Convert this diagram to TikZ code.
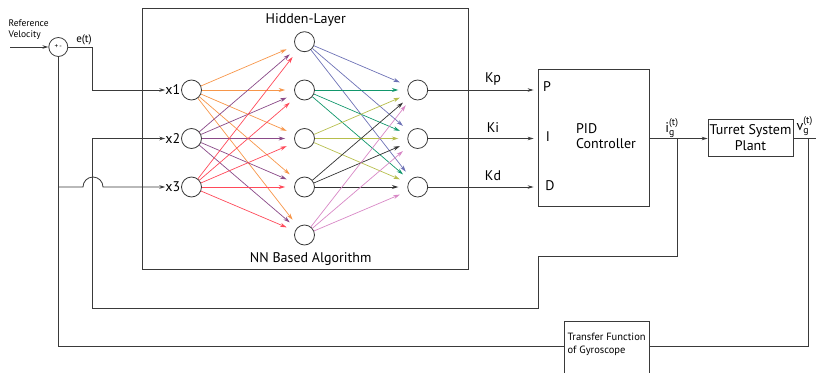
\documentclass[tikz,border=0pt]{standalone}
\usepackage{amsmath}
\usepackage{fontspec}
\setmainfont{PT Sans}
\usetikzlibrary{arrows.meta,calc}
\definecolor{corange}{HTML}{F7964A}
\definecolor{cpurple}{HTML}{8A4A88}
\definecolor{cred}{HTML}{FF4A5A}
\definecolor{cblue}{HTML}{6D72B6}
\definecolor{cteal}{HTML}{12976C}
\definecolor{colive}{HTML}{B7BE4C}
\definecolor{cdark}{HTML}{333333}
\definecolor{cpink}{HTML}{D888C6}
\definecolor{wirec}{HTML}{3A3A3A}
\tikzset{
  neuron/.style={circle,draw=wirec,line width=0.8pt,minimum size=20pt,inner sep=0pt},
  wire/.style={draw=wirec,line width=0.8pt},
  arr/.style={-{Stealth[length=6pt,width=3.5pt]}},
  nnarr/.style={line width=0.7pt,-{Stealth[length=6.5pt,width=4pt]},shorten >=9pt},
  big/.style={font=\fontsize{14}{16}\selectfont,inner sep=0pt},
  small/.style={font=\fontsize{10.5}{12.5}\selectfont,inner sep=0pt},
  blockbox/.style={draw=wirec,line width=0.8pt,inner sep=0pt}
}
\begin{document}
\begin{tikzpicture}[x=1pt,y=-1pt]
\useasboundingbox (0,0) rectangle (816,372);
\clip (0,0) rectangle (816,372);

% NN frame
\node[blockbox,minimum width=326,minimum height=261] (nnbox) at (305,138.8) {};
\node[big] (hl) at (305.7,20) {Hidden-Layer};
\node[big] (nnb) at (310.7,259) {NN Based Algorithm};

% neurons
\node[neuron] (i1) at (191.5,90) {};
\node[neuron] (i2) at (191.5,138.5) {};
\node[neuron] (i3) at (191.5,187) {};
\node[neuron] (h1) at (304.5,41.7) {};
\node[neuron] (h2) at (304.5,90) {};
\node[neuron] (h3) at (304.5,138.5) {};
\node[neuron] (h4) at (304.5,187) {};
\node[neuron] (h5) at (304.5,235) {};
\node[neuron] (o1) at (417.7,90) {};
\node[neuron] (o2) at (417.7,138.5) {};
\node[neuron] (o3) at (417.7,187) {};

% input labels
\node[big,anchor=east] (lx1) at (180.5,90) {x1};
\node[big,anchor=east] (lx2) at (180.5,138.5) {x2};
\node[big,anchor=east] (lx3) at (180.5,187) {x3};

% NN connections
\foreach \s/\c in {i1/corange,i2/cpurple,i3/cred}{
  \foreach \t in {1,...,5}{\draw[nnarr,\c] (\s) -- (h\t);}}
\foreach \s/\c in {h1/cblue,h2/cteal,h3/colive,h4/cdark,h5/cpink}{
  \foreach \t in {1,2,3}{\draw[nnarr,\c] (\s) -- (o\t);}}

% PID
\node[blockbox,minimum width=111,minimum height=137] (pid) at (593.5,137.5) {};
\node[big,align=left] (pidt) at (606,136) {PID\\[-1pt]Controller};
\node[big] (lp) at (547,87) {P};
\node[big] (li) at (548,137) {I};
\node[big] (ld) at (550,186) {D};
\draw[wire,arr,shorten >=4pt] (o1.east) -- (o1.east -| pid.west);
\draw[wire,arr,shorten >=4pt] (o2.east) -- (o2.east -| pid.west);
\draw[wire,arr,shorten >=4pt] (o3.east) -- (o3.east -| pid.west);
\node[big] (kp) at (493,79) {Kp};
\node[big] (ki) at (493,128) {Ki};
\node[big] (kd) at (493,176) {Kd};

% turret
\node[blockbox,minimum width=85,minimum height=37,align=center,font=\fontsize{14}{15.5}\selectfont] (tur) at (750.5,137.5) {Turret System\\Plant};
\coordinate (ig) at (677.7,138.5);
\draw[wire,arr] (pid.east |- ig) -- (ig) -- (tur.west |- ig);
\node[big] (igl) at (672,128) {i$_{\text{g}}^{\text{(t)}}$};
\node[big,anchor=west] (vgl) at (796.5,126) {v$_{\text{g}}^{\text{(t)}}$};
\coordinate (vg) at (808.3,138.5);
\draw[wire] (tur.east |- vg) -- (830,138.5);

% gyroscope
\node[blockbox,minimum width=85,minimum height=70] (gyro) at (606.5,356) {};
\node[small,anchor=west,align=left] (gyt) at (567.5,344.5) {Transfer Function\\of Gyroscope};

% summing junction
\node[circle,draw=wirec,line width=0.8pt,minimum size=19pt,inner sep=0pt,font=\fontsize{7}{8}\selectfont] (sum) at (58.3,47) {+\,-};
\node[font=\fontsize{9.5}{11}\selectfont,inner sep=0pt,anchor=west,align=left] (refv) at (8.5,30) {Reference\\Velocity};
\coordinate (refin) at (10,47);
\draw[wire,arr] (refin) -- (sum.west);
\node[font=\fontsize{11}{12}\selectfont,inner sep=0pt] (et) at (84,40) {e(t)};
\draw[wire,arr] (sum.east) -- (92.7,47) |- (lx1.west);

% feedback from i_g to x2
\draw[wire,arr] (ig) -- (677.7,256.7) -- (538.3,256.7) -- (538.3,308.3) -- (92.7,308.3) |- (lx2.west);

% feedback through gyroscope to junction and x3
\draw[wire] (vg) -- (808.3,346.7) -- (gyro.east |- 0,346.7);
\draw[wire] (gyro.west |- 0,346.7) -- (58.3,346.7) -- (sum.south);
\draw[wire,arr] (58.3,187) -- (83,187) arc[start angle=180,end angle=360,radius=10] -- (lx3.west);

\end{tikzpicture}
\end{document}
